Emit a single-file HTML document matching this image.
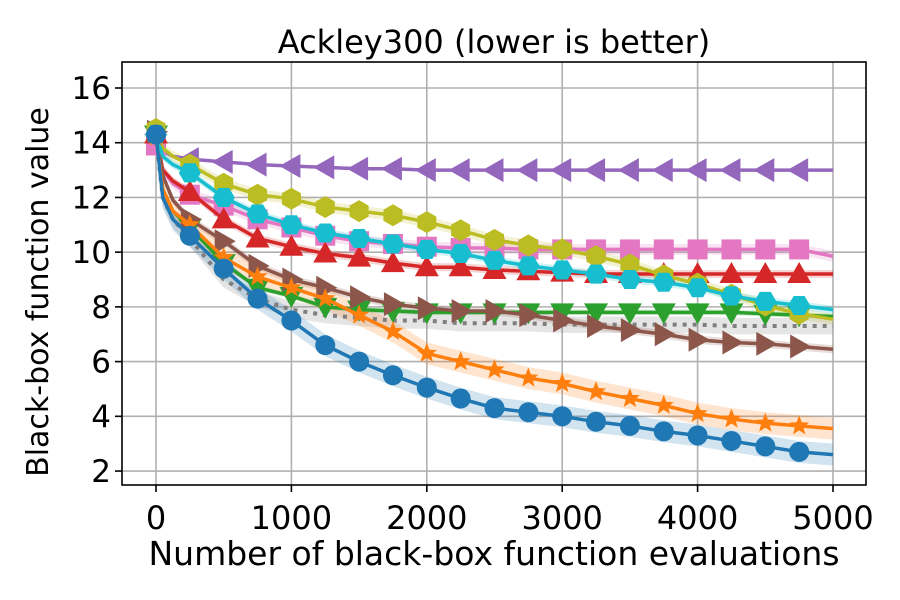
<!DOCTYPE html>
<html><head><meta charset="utf-8"><style>
html,body{margin:0;padding:0;background:#fff;}
svg{display:block;font-family:"DejaVu Sans","Liberation Sans",sans-serif;}
</style></head><body>
<svg id="chart" width="900" height="600" viewBox="0 0 900 600" xmlns="http://www.w3.org/2000/svg">
<text x="494" y="53" text-anchor="middle" font-size="32">Ackley300 (lower is better)</text>
<text x="494" y="565" text-anchor="middle" font-size="33">Number of black-box function evaluations</text>
<text transform="translate(48,292) rotate(-90)" text-anchor="middle" font-size="30">Black-box function value</text>
<g id="grid"></g><g id="bands"></g><g id="lines"></g><g id="axes"></g>
</svg>
<script>
const evals = [0,50,125,250,500,750,1000,1250,1500,1750,2000,2250,2500,2750,3000,3250,3500,3750,4000,4250,4500,4750,5000];
const xTicks = [0,1000,2000,3000,4000,5000];
const yTicks = [2,4,6,8,10,12,14,16];
const blue   = [14.3,12.0,11.2,10.6,9.4,8.3,7.5,6.6,6.0,5.5,5.05,4.65,4.3,4.15,4.0,3.8,3.65,3.45,3.3,3.1,2.9,2.7,2.6];
const orange = [14.2,12.3,11.5,11.0,9.8,9.1,8.7,8.3,7.7,7.1,6.3,6.0,5.7,5.4,5.2,4.9,4.65,4.4,4.1,3.9,3.75,3.65,3.55];
const green  = [14.3,12.3,11.5,10.9,9.6,8.7,8.4,8.0,7.9,7.85,7.8,7.8,7.8,7.8,7.8,7.8,7.8,7.8,7.8,7.8,7.75,7.7,7.65];
const red    = [14.3,13.0,12.6,12.2,11.2,10.5,10.2,9.95,9.8,9.6,9.45,9.45,9.35,9.3,9.25,9.2,9.2,9.2,9.2,9.2,9.2,9.2,9.2];
const purple = [14.3,13.7,13.5,13.4,13.3,13.2,13.15,13.1,13.05,13.05,13.0,13.0,13.0,13.0,13.0,13.0,13.0,13.0,13.0,13.0,13.0,13.0,13.0];
const brown  = [14.4,12.8,11.9,11.2,10.4,9.5,9.0,8.7,8.35,8.1,7.95,7.85,7.85,7.7,7.5,7.3,7.15,7.0,6.8,6.7,6.65,6.55,6.45];
const pink   = [13.9,13.0,12.5,12.1,11.7,11.2,10.9,10.6,10.4,10.3,10.2,10.15,10.15,10.1,10.1,10.1,10.1,10.1,10.1,10.1,10.1,10.1,9.85];
const gray   = [14.2,12.0,11.2,10.5,9.0,8.3,7.9,7.7,7.6,7.5,7.5,7.4,7.4,7.4,7.35,7.35,7.35,7.35,7.35,7.3,7.3,7.3,7.3];
const olive  = [14.5,13.8,13.5,13.2,12.5,12.1,11.95,11.65,11.5,11.35,11.1,10.8,10.45,10.25,10.1,9.85,9.55,9.15,8.85,8.45,8.05,7.75,7.55];
const cyan   = [14.3,13.5,13.2,12.9,12.0,11.4,11.0,10.7,10.5,10.3,10.1,9.95,9.7,9.5,9.35,9.2,9.0,8.9,8.7,8.4,8.2,8.05,7.9];
const spreads = [0.3,0.05,0.2,0.15,0.1,0.15,0.2,0.15,0.4,0.4];

const NS="http://www.w3.org/2000/svg";
const L=122,R=866,T=62,B=485;
const xs=v=>156+v*(833-156)/5000;
const ys=v=>88+(16-v)*27.36;
function mk(tag,attrs,parent){const e=document.createElementNS(NS,tag);for(const k in attrs)e.setAttribute(k,attrs[k]);parent.appendChild(e);return e;}
const grid=document.getElementById('grid'),axes=document.getElementById('axes');
xTicks.forEach(t=>{
  const g=mk('line',{x1:xs(t),x2:xs(t),y1:T,y2:B,stroke:'#b0b0b0','stroke-width':1.6},grid);
  
  
  mk('line',{x1:xs(t),x2:xs(t),y1:B,y2:B+7,stroke:'#000','stroke-width':1.6},axes);
  const tx=mk('text',{x:xs(t),y:B+44,'text-anchor':'middle','font-size':32},axes);
  tx.textContent=t;
  
  
});
yTicks.forEach(t=>{
  const g=mk('line',{x1:L,x2:R,y1:ys(t),y2:ys(t),stroke:'#b0b0b0','stroke-width':1.6},grid);
  
  
  mk('line',{x1:L-7,x2:L,y1:ys(t),y2:ys(t),stroke:'#000','stroke-width':1.6},axes);
  const tx=mk('text',{x:L-11,y:ys(t)+11,'text-anchor':'end','font-size':31},axes);
  tx.textContent=t;
  
  
});
const frame=mk('rect',{x:L,y:T,width:R-L,height:B-T,fill:'none',stroke:'#000','stroke-width':1.6},axes);



const series=[
 {n:'gray',d:gray,c:'#7f7f7f',m:'none',dash:'4,6'},
 {n:'purple',d:purple,c:'#9467bd',m:'left'},
 {n:'pink',d:pink,c:'#e377c2',m:'square'},
 {n:'red',d:red,c:'#d62728',m:'up'},
 {n:'green',d:green,c:'#2ca02c',m:'down'},
 {n:'brown',d:brown,c:'#8c564b',m:'right'},
 {n:'olive',d:olive,c:'#bcbd22',m:'hex'},
 {n:'cyan',d:cyan,c:'#17becf',m:'hex2'},
 {n:'orange',d:orange,c:'#ff7f0e',m:'star'},
 {n:'blue',d:blue,c:'#1f77b4',m:'circle'}
];
const bandsG=document.getElementById('bands'),linesG=document.getElementById('lines');
function marker(type,x,y,c,parent){
  const s=12;let e;
  if(type==='circle')e=mk('circle',{cx:x,cy:y,r:10,fill:c},parent);
  else if(type==='square')e=mk('rect',{x:x-10,y:y-10,width:20,height:20,fill:c},parent);
  else{
    let pts=[];
    if(type==='up')pts=[[0,-s],[s,s*0.75],[-s,s*0.75]];
    if(type==='down')pts=[[0,s],[s,-s*0.75],[-s,-s*0.75]];
    if(type==='left')pts=[[-s,0],[s*0.75,-s],[s*0.75,s]];
    if(type==='right')pts=[[s,0],[-s*0.75,-s],[-s*0.75,s]];
    if(type==='hex'||type==='hex2'){const off=type==='hex'?-90:0;for(let i=0;i<6;i++){const a=(off+i*60)*Math.PI/180;pts.push([11*Math.cos(a),11*Math.sin(a)]);}}
    if(type==='star'){for(let i=0;i<10;i++){const a=(-90+i*36)*Math.PI/180,r=i%2?4.5:10.5;pts.push([r*Math.cos(a),r*Math.sin(a)]);}}
    e=mk('polygon',{points:pts.map(p=>(x+p[0])+','+(y+p[1])).join(' '),fill:c},parent);
  }
  return e;
}
series.forEach((s,si)=>{
  const sp=spreads[si];
  const up=s.d.map((v,i)=>xs(evals[i])+','+ys(v+sp));
  const lo=s.d.map((v,i)=>xs(evals[i])+','+ys(v-sp)).reverse();
  const band=mk('polygon',{points:up.concat(lo).join(' '),fill:s.c,'fill-opacity':0.2},bandsG);
  
  
  const g=mk('g',{},linesG);
  
  
  const attrs={points:s.d.map((v,i)=>xs(evals[i])+','+ys(v)).join(' '),fill:'none',stroke:s.c,'stroke-width':s.dash?4:3.5};
  if(s.dash)attrs['stroke-dasharray']=s.dash;
  const pl=mk('polyline',attrs,g);
  
  
  if(s.m!=='none'){
    for(let i=0;i<s.d.length-1;i++){
      if(evals[i]%250!==0)continue;
      const m=marker(s.m,xs(evals[i]),ys(s.d[i]),s.c,g);
      
      
    }
  }
});
</script>
</body></html>
